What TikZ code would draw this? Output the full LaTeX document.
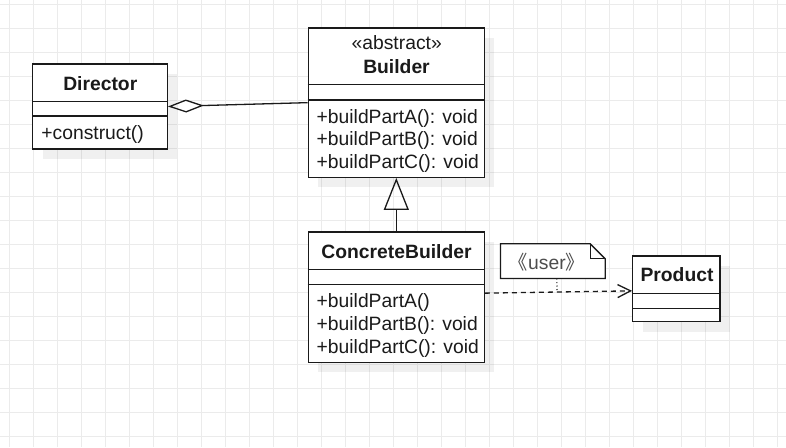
\documentclass[tikz,border=0pt]{standalone}
\usepackage{fontspec}
\setmainfont{Liberation Sans}
\newfontfamily\cjk{Noto Sans CJK SC}
\usetikzlibrary{arrows.meta,calc}
\definecolor{gridc}{HTML}{EBEBEB}
\definecolor{linec}{HTML}{1A1A1A}
\definecolor{notetext}{HTML}{4D4D4D}
\begin{document}
\begin{tikzpicture}[x=1pt,y=-1pt,
  gridline/.style={draw=gridc, line width=0.9pt},
  classbox/.style={draw=linec, line width=1.3pt, fill=white, inner sep=0pt, rectangle},
  shadowbox/.style={fill=black, opacity=0.06},
  sepline/.style={draw=linec, line width=1.3pt},
  txt/.style={inner sep=0pt, text=linec, font=\fontsize{19.3pt}{23pt}\selectfont},
  btxt/.style={txt, font=\fontsize{19.3pt}{23pt}\selectfont\bfseries},
  conn/.style={draw=linec, line width=1.3pt},
]
\useasboundingbox (0,0) rectangle (786,447);
\fill[white] (0,0) rectangle (786,447);
% grid
\foreach \x in {9.5,33.5,...,786} \draw[gridline] (\x,0) -- (\x,447);
\foreach \y in {4.3,28.3,...,447} \draw[gridline] (0,\y) -- (786,\y);

% shadows
\fill[shadowbox] (42.7,74) rectangle (177.3,159);
\fill[shadowbox] (318.3,38) rectangle (494.3,187.3);
\fill[shadowbox] (318.3,242) rectangle (494.3,372.3);
\fill[shadowbox] (642.7,266) rectangle (730,331.7);

% Director
\node[classbox, minimum width=134.6pt, minimum height=85pt] (director) at (100,106.5) {};
\draw[sepline] (director.west |- 0,101.7) -- (director.east |- 0,101.7);
\draw[sepline] (director.west |- 0,116) -- (director.east |- 0,116);
\node[btxt, anchor=base] (directorname) at (100.3,90) {Director};
\node[txt, anchor=base west] (construct) at (41.2,139) {+construct()};

% Builder
\node[classbox, minimum width=176pt, minimum height=149.3pt] (builder) at (396.3,102.65) {};
\draw[sepline] (builder.west |- 0,84.3) -- (builder.east |- 0,84.3);
\draw[sepline] (builder.west |- 0,100) -- (builder.east |- 0,100);
\node[txt, anchor=base] (abstract) at (396.7,49.5) {«abstract»};
\node[btxt, anchor=base] (buildername) at (396.5,73) {Builder};
\node[txt, anchor=base west] (bA) at (316.5,123) {+buildPartA(): void};
\node[txt, anchor=base west] (bB) at (316.5,145.5) {+buildPartB(): void};
\node[txt, anchor=base west] (bC) at (316.5,168) {+buildPartC(): void};

% ConcreteBuilder
\node[classbox, minimum width=176pt, minimum height=130.3pt] (cb) at (396.3,297.15) {};
\draw[sepline] (cb.west |- 0,269.3) -- (cb.east |- 0,269.3);
\draw[sepline] (cb.west |- 0,284.3) -- (cb.east |- 0,284.3);
\node[btxt, anchor=base] (cbname) at (396.5,258) {ConcreteBuilder};
\node[txt, anchor=base west] (cA) at (316.5,307) {+buildPartA()};
\node[txt, anchor=base west] (cB) at (316.5,330) {+buildPartB(): void};
\node[txt, anchor=base west] (cC) at (316.5,353) {+buildPartC(): void};

% Product
\node[classbox, minimum width=87.3pt, minimum height=65.7pt] (product) at (676.35,288.85) {};
\draw[sepline] (product.west |- 0,293.3) -- (product.east |- 0,293.3);
\draw[sepline] (product.west |- 0,308.3) -- (product.east |- 0,308.3);
\node[btxt, anchor=base] (productname) at (677,281.7) {Product};

% Note
\node[inner sep=0pt, minimum width=104.3pt, minimum height=34.3pt] (note) at (552.85,261.15) {};
\draw[draw=linec, line width=1.3pt, fill=white]
  (note.south west) -- (note.north west) -- ([xshift=-15pt]note.north east)
  -- ([yshift=-15pt]note.north east) -- (note.south east) -- cycle;
\draw[draw=linec, line width=1.3pt]
  ([xshift=-15pt]note.north east) -- ([xshift=-15pt,yshift=-15pt]note.north east)
  -- ([yshift=-15pt]note.north east);
\node[txt, text=notetext, anchor=base] (notetxt) at (547,269) {{\cjk 《}user{\cjk 》}};

% Aggregation
\draw[conn, {Diamond[open, length=36pt, width=13pt, line width=1.3pt]}-] (director.east) -- (builder.west);

% Generalization
\draw[conn, -{Triangle[open, length=32pt, width=25pt, line width=1.3pt]}] (cb.north) -- (builder.south);

% Dependency
\draw[conn, dash pattern=on 5pt off 4pt, -{Straight Barb[length=13pt, width=13pt, line width=1.3pt]}]
  ([yshift=4pt]cb.east) -- coordinate[pos=0.49] (dep) ([yshift=-2pt]product.west);
\draw[conn, line width=1.1pt, dash pattern=on 1pt off 2.5pt] ([xshift=4pt]note.south) -- (dep);
\end{tikzpicture}
\end{document}
